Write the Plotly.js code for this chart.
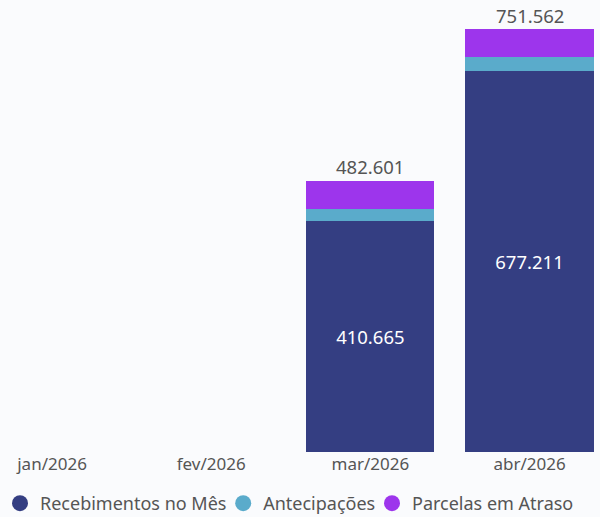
<!DOCTYPE html>
<html><head><meta charset="utf-8">
<script src="https://cdn.plot.ly/plotly-3.0.1.min.js"></script>
<style>html,body{margin:0;padding:0;background:#fafbfd;}#chart{width:600px;height:517px;}</style>
</head><body><div id="chart"></div>
<script>
const categories = ["jan/2026", "fev/2026", "mar/2026", "abr/2026"];
const recebimentos = [null, null, 410665, 677211];
const antecipacoes = [null, null, 21000, 25200];
const atraso = [null, null, 50936, 49151];
const totals = categories.map((c, i) => (recebimentos[i] == null) ? null : (recebimentos[i] + antecipacoes[i] + atraso[i]));

const colors = {rec: "#343e82", ant: "#5aabcb", atr: "#9d35ec"};
const FONT = "Noto Sans, Open Sans, sans-serif";

const legFont = {size: 18, color: "#555555", family: FONT};

const fmt = v => Math.round(v).toString().replace(/\B(?=(\d{3})+(?!\d))/g, ".");

const traces = [
  {type: "bar", x: categories, y: recebimentos, name: "Recebimentos no Mês", marker: {color: colors.rec},
   texttemplate: "%{y:,.0f}", textposition: "inside", insidetextanchor: "middle",
   textfont: {color: "#ffffff", size: 18.5, family: FONT}, showlegend: false, hoverinfo: "skip"},
  {type: "bar", x: categories, y: antecipacoes, name: "Antecipações", marker: {color: colors.ant}, textposition: "none", showlegend: false, hoverinfo: "skip"},
  {type: "bar", x: categories, y: atraso, name: "Parcelas em Atraso", marker: {color: colors.atr}, textposition: "none", showlegend: false, hoverinfo: "skip"},
  {type: "scatter", mode: "markers", x: [null], y: [null], name: "Recebimentos no Mês", legend: "legend", marker: {color: colors.rec, size: 16, symbol: "circle"}},
  {type: "scatter", mode: "markers", x: [null], y: [null], name: "Antecipações", legend: "legend2", marker: {color: colors.ant, size: 16, symbol: "circle"}},
  {type: "scatter", mode: "markers", x: [null], y: [null], name: "Parcelas em Atraso", legend: "legend3", marker: {color: colors.atr, size: 16, symbol: "circle"}}
];

const annotations = categories.map((c, i) => totals[i] == null ? null : ({
  x: c, y: totals[i], xref: "x", yref: "y", text: fmt(totals[i]), showarrow: false,
  yanchor: "middle", yshift: 14, font: {color: "#555555", size: 18.5, family: FONT}
})).filter(a => a);

const legY = -0.073;
const layout = {
  width: 600, height: 517,
  margin: {l: 0, r: 0, t: 0, b: 65, autoexpand: false},
  paper_bgcolor: "#fafbfd", plot_bgcolor: "#fafbfd",
  barmode: "stack", bargap: 0.195,
  separators: ",.",
  font: {family: FONT, color: "#555555"},
  xaxis: {type: "category", range: [-0.327, 3.443], showgrid: false, zeroline: false, showline: false,
          ticks: "", tickfont: {size: 17, color: "#555555", family: FONT}, fixedrange: true},
  yaxis: {range: [0, 803700], visible: false, showgrid: false, zeroline: false, fixedrange: true},
  annotations: annotations,
  legend: {orientation: "h", x: 0, xanchor: "left", y: legY, yanchor: "top", font: legFont, itemwidth: 30, bgcolor: "rgba(0,0,0,0)"},
  legend2: {orientation: "h", x: 0.372, xanchor: "left", y: legY, yanchor: "top", font: legFont, itemwidth: 30, bgcolor: "rgba(0,0,0,0)"},
  legend3: {orientation: "h", x: 0.62, xanchor: "left", y: legY, yanchor: "top", font: legFont, itemwidth: 30, bgcolor: "rgba(0,0,0,0)"},
  showlegend: true
};

Plotly.newPlot("chart", traces, layout, {displayModeBar: false, staticPlot: true});
</script></body></html>
